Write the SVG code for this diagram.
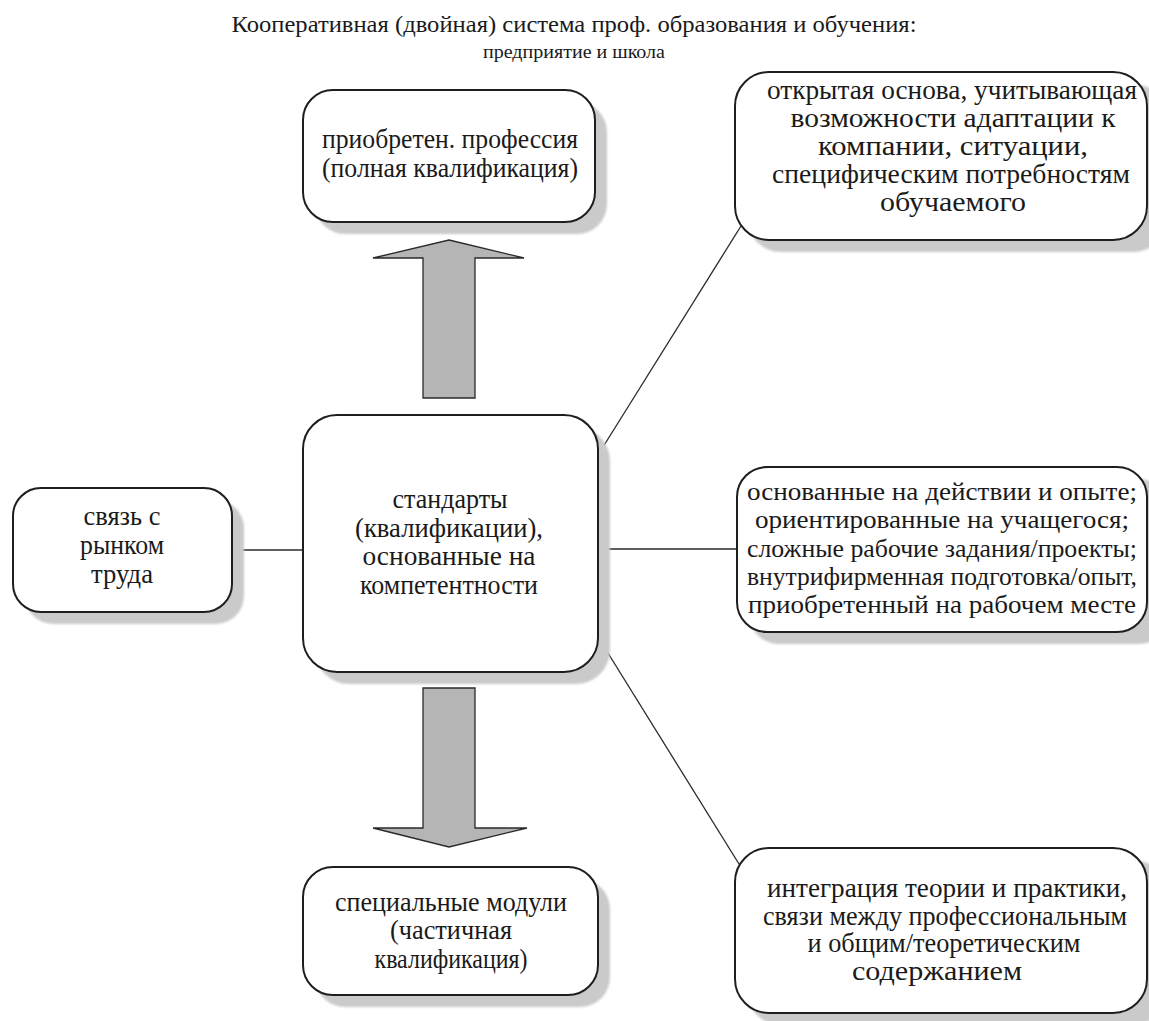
<svg xmlns="http://www.w3.org/2000/svg" width="1149" height="1021" viewBox="0 0 1149 1021" font-family="Liberation Serif, DejaVu Serif, serif">
  <defs>
    <style>
      .box { fill: #ffffff; stroke: #1e1e1e; stroke-width: 2; }
      .shadow { fill: #cacaca; filter: url(#soft); }
      .txt { fill: #1a1a1a; text-anchor: middle; }
      .title { fill: #1a1a1a; text-anchor: middle; }
      .link { stroke: #2a2a2a; stroke-width: 1.3; fill: none; }
      .arrow { fill: #b5b5b5; stroke: #2a2a2a; stroke-width: 1.3; stroke-linejoin: miter; }
    </style>
    <filter id="soft" x="-5%" y="-5%" width="110%" height="110%">
      <feGaussianBlur stdDeviation="1.2"/>
    </filter>
  </defs>

  <rect width="1149" height="1021" fill="#ffffff"/>

  <!-- heading -->
  <text class="title" x="574" y="32" font-size="23" textLength="685" lengthAdjust="spacingAndGlyphs">Кооперативная (двойная) система проф. образования и обучения:</text>
  <text class="title" x="574" y="58" font-size="19" textLength="182" lengthAdjust="spacingAndGlyphs">предприятие и школа</text>

  <!-- connectors -->
  <g id="connectors">
    <line class="link" x1="232" y1="550" x2="303" y2="550"/>
    <line class="link" x1="598" y1="549" x2="737" y2="549"/>
    <line class="link" x1="598" y1="455" x2="741" y2="226"/>
    <line class="link" x1="598" y1="637" x2="739" y2="864"/>
    <polygon class="arrow" points="449,240 524,258 475,258 475,398 423,398 423,258 373,258"/>
    <polygon class="arrow" points="423,688 475,688 475,828 527,828 449,847 373,828 423,828"/>
  </g>

  <!-- acquired profession -->
  <g id="node-profession" font-size="27">
    <rect class="shadow" x="315" y="102" width="292" height="132" rx="30"/>
    <rect class="box" x="303" y="90" width="292" height="132" rx="30"/>
    <text class="txt" x="450" y="148" textLength="256" lengthAdjust="spacingAndGlyphs">приобретен. профессия</text>
    <text class="txt" x="450" y="177" textLength="256" lengthAdjust="spacingAndGlyphs">(полная квалификация)</text>
  </g>

  <!-- labour market -->
  <g id="node-market" font-size="27">
    <rect class="shadow" x="25" y="500" width="219" height="124" rx="28"/>
    <rect class="box" x="13" y="488" width="219" height="124" rx="28"/>
    <text class="txt" x="122" y="525" textLength="77" lengthAdjust="spacingAndGlyphs">связь с</text>
    <text class="txt" x="122" y="554" textLength="84" lengthAdjust="spacingAndGlyphs">рынком</text>
    <text class="txt" x="122" y="583" textLength="62" lengthAdjust="spacingAndGlyphs">труда</text>
  </g>

  <!-- competence-based standards -->
  <g id="node-standards" font-size="27">
    <rect class="shadow" x="315" y="427" width="295" height="257" rx="34"/>
    <rect class="box" x="303" y="415" width="295" height="257" rx="34"/>
    <text class="txt" x="450" y="508" textLength="115" lengthAdjust="spacingAndGlyphs">стандарты</text>
    <text class="txt" x="449" y="537" textLength="188" lengthAdjust="spacingAndGlyphs">(квалификации),</text>
    <text class="txt" x="449" y="565" textLength="173" lengthAdjust="spacingAndGlyphs">основанные на</text>
    <text class="txt" x="449" y="594" textLength="178" lengthAdjust="spacingAndGlyphs">компетентности</text>
  </g>

  <!-- special modules -->
  <g id="node-modules" font-size="27">
    <rect class="shadow" x="315" y="879" width="295" height="128" rx="30"/>
    <rect class="box" x="303" y="867" width="295" height="128" rx="30"/>
    <text class="txt" x="451" y="911" textLength="232" lengthAdjust="spacingAndGlyphs">специальные модули</text>
    <text class="txt" x="451" y="939" textLength="122" lengthAdjust="spacingAndGlyphs">(частичная</text>
    <text class="txt" x="451" y="968" textLength="153" lengthAdjust="spacingAndGlyphs">квалификация)</text>
  </g>

  <!-- open framework -->
  <g id="node-framework" font-size="27">
    <rect class="shadow" x="747" y="84" width="420" height="168" rx="34"/>
    <rect class="box" x="735" y="72" width="412" height="168" rx="34"/>
    <text class="txt" x="952" y="99" textLength="370" lengthAdjust="spacingAndGlyphs">открытая основа, учитывающая</text>
    <text class="txt" x="953" y="127" textLength="325" lengthAdjust="spacingAndGlyphs">возможности адаптации к</text>
    <text class="txt" x="953" y="155" textLength="270" lengthAdjust="spacingAndGlyphs">компании, ситуации,</text>
    <text class="txt" x="951" y="183" textLength="358" lengthAdjust="spacingAndGlyphs">специфическим потребностям</text>
    <text class="txt" x="953" y="211" textLength="146" lengthAdjust="spacingAndGlyphs">обучаемого</text>
  </g>

  <!-- action-oriented learning -->
  <g id="node-action" font-size="25">
    <rect class="shadow" x="749" y="479" width="420" height="165" rx="30"/>
    <rect class="box" x="737" y="467" width="410" height="165" rx="30"/>
    <text class="txt" x="942" y="500" textLength="390" lengthAdjust="spacingAndGlyphs">основанные на действии и опыте;</text>
    <text class="txt" x="942" y="528" textLength="374" lengthAdjust="spacingAndGlyphs">ориентированные на учащегося;</text>
    <text class="txt" x="942" y="557" textLength="390" lengthAdjust="spacingAndGlyphs">сложные рабочие задания/проекты;</text>
    <text class="txt" x="942" y="585" textLength="390" lengthAdjust="spacingAndGlyphs">внутрифирменная подготовка/опыт,</text>
    <text class="txt" x="942" y="613" textLength="388" lengthAdjust="spacingAndGlyphs">приобретенный на рабочем месте</text>
  </g>

  <!-- theory and practice -->
  <g id="node-integration" font-size="27">
    <rect class="shadow" x="747" y="860" width="420" height="165" rx="34"/>
    <rect class="box" x="735" y="848" width="412" height="165" rx="34"/>
    <text class="txt" x="947" y="897" textLength="360" lengthAdjust="spacingAndGlyphs">интеграция теории и практики,</text>
    <text class="txt" x="945" y="925" textLength="364" lengthAdjust="spacingAndGlyphs">связи между профессиональным</text>
    <text class="txt" x="944" y="952" textLength="273" lengthAdjust="spacingAndGlyphs">и общим/теоретическим</text>
    <text class="txt" x="937" y="980" textLength="170" lengthAdjust="spacingAndGlyphs">содержанием</text>
  </g>
</svg>
